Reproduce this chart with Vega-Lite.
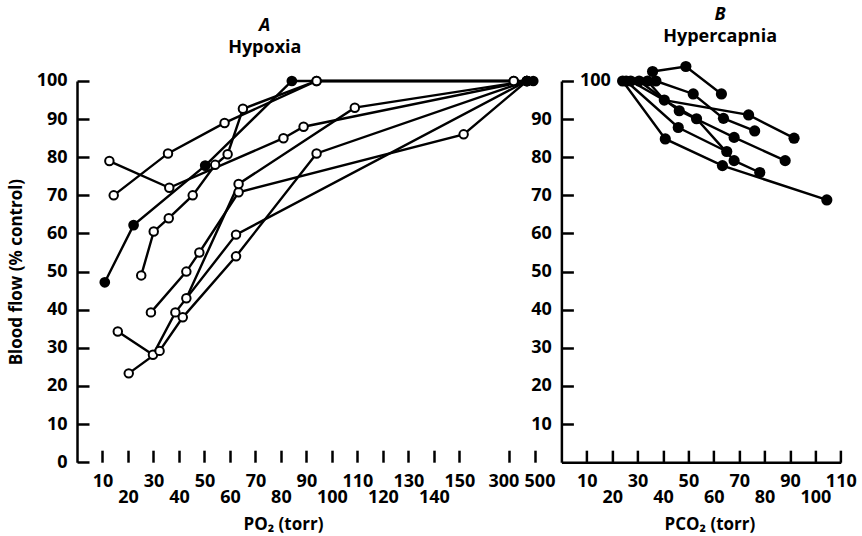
{
  "$schema": "https://vega.github.io/schema/vega-lite/v6.json",
  "background": "white",
  "padding": {"left": 7, "top": 5, "right": 10, "bottom": 2},
  "spacing": 26.4,
  "bounds": "flush",
  "config": {
    "view": {"stroke": null},
    "font": "Open Sans",
    "axis": {
      "grid": false,
      "domainColor": "black",
      "domainWidth": 2.5,
      "tickColor": "black",
      "tickWidth": 2.5,
      "tickSize": -12,
      "labelPadding": 22,
      "labelFont": "Open Sans",
      "labelFontSize": 18,
      "labelFontWeight": "bold",
      "labelColor": "black",
      "titleFont": "Open Sans",
      "titleFontSize": 17,
      "titleFontWeight": "bold",
      "titleColor": "black",
      "labelOverlap": false,
      "labelBound": false,
      "labelFlush": false
    },
    "title": {
      "font": "Open Sans",
      "fontSize": 18,
      "fontWeight": "bold",
      "fontStyle": "italic",
      "color": "black",
      "subtitleFont": "Open Sans",
      "subtitleFontSize": 18,
      "subtitleFontWeight": "bold",
      "subtitleColor": "black",
      "subtitlePadding": 4,
      "anchor": "middle",
      "frame": "group",
      "align": "center",
      "offset": 15
    }
  },
  "datasets": {
    "hypoxia": [
      {"s": "A1", "x": 14.4, "y": 70, "f": "o"},
      {"s": "A1", "x": 35.7, "y": 81, "f": "o"},
      {"s": "A1", "x": 57.9, "y": 89, "f": "o"},
      {"s": "A1", "x": 94, "y": 100, "f": "o"},
      {"s": "A1", "x": 335, "y": 100, "f": "o"},
      {"s": "A2", "x": 12.7, "y": 79, "f": "o"},
      {"s": "A2", "x": 36.2, "y": 72, "f": "o"},
      {"s": "A2", "x": 81, "y": 85, "f": "o"},
      {"s": "A2", "x": 88.9, "y": 88, "f": "o"},
      {"s": "A2", "x": 440, "y": 100, "f": "f"},
      {"s": "A3", "x": 25.2, "y": 49, "f": "o"},
      {"s": "A3", "x": 30.1, "y": 60.5, "f": "o"},
      {"s": "A3", "x": 36, "y": 64, "f": "o"},
      {"s": "A3", "x": 45.4, "y": 70, "f": "o"},
      {"s": "A3", "x": 54.2, "y": 78, "f": "o"},
      {"s": "A3", "x": 59.1, "y": 80.8, "f": "o"},
      {"s": "A3", "x": 65.1, "y": 92.7, "f": "o"},
      {"s": "A3", "x": 94, "y": 100, "f": "o"},
      {"s": "A3", "x": 335, "y": 100, "f": "o"},
      {"s": "F", "x": 10.9, "y": 47.2, "f": "f"},
      {"s": "F", "x": 22.2, "y": 62.2, "f": "f"},
      {"s": "F", "x": 50.3, "y": 77.8, "f": "f"},
      {"s": "F", "x": 84.3, "y": 100, "f": "f"},
      {"s": "F", "x": 490, "y": 100, "f": "f"},
      {"s": "L1", "x": 16, "y": 34.3, "f": "o"},
      {"s": "L1", "x": 29.8, "y": 28.2, "f": "o"},
      {"s": "L1", "x": 38.6, "y": 39.3, "f": "o"},
      {"s": "L1", "x": 62.4, "y": 59.7, "f": "o"},
      {"s": "L1", "x": 440, "y": 100, "f": "f"},
      {"s": "L2", "x": 20.3, "y": 23.3, "f": "o"},
      {"s": "L2", "x": 32.4, "y": 29.2, "f": "o"},
      {"s": "L2", "x": 41.5, "y": 38, "f": "o"},
      {"s": "L2", "x": 62.4, "y": 54, "f": "o"},
      {"s": "L2", "x": 94, "y": 81, "f": "o"},
      {"s": "L2", "x": 440, "y": 100, "f": "f"},
      {"s": "L3", "x": 29, "y": 39.3, "f": "o"},
      {"s": "L3", "x": 42.9, "y": 50, "f": "o"},
      {"s": "L3", "x": 48, "y": 55, "f": "o"},
      {"s": "L3", "x": 63.4, "y": 70.8, "f": "o"},
      {"s": "L3", "x": 163, "y": 86, "f": "o"},
      {"s": "L3", "x": 440, "y": 100, "f": "f"},
      {"s": "L4", "x": 42.9, "y": 43, "f": "o"},
      {"s": "L4", "x": 63.4, "y": 73, "f": "o"},
      {"s": "L4", "x": 109, "y": 93, "f": "o"},
      {"s": "L4", "x": 440, "y": 100, "f": "f"}
    ],
    "hypercapnia": [
      {"s": "B1", "x": 35.9, "y": 102.5},
      {"s": "B1", "x": 49, "y": 103.8},
      {"s": "B1", "x": 63, "y": 96.6},
      {"s": "B2", "x": 37.2, "y": 100},
      {"s": "B2", "x": 51.9, "y": 96.6},
      {"s": "B2", "x": 63.8, "y": 90.2},
      {"s": "B2", "x": 76.1, "y": 86.9},
      {"s": "B3", "x": 33.9, "y": 100},
      {"s": "B3", "x": 40.5, "y": 95},
      {"s": "B3", "x": 73.7, "y": 91.1},
      {"s": "B3", "x": 91.6, "y": 85},
      {"s": "B4", "x": 30.6, "y": 100},
      {"s": "B4", "x": 46.4, "y": 92.2},
      {"s": "B4", "x": 68, "y": 85.2},
      {"s": "B4", "x": 88.1, "y": 79.1},
      {"s": "B5", "x": 27.3, "y": 100},
      {"s": "B5", "x": 53.2, "y": 90.1},
      {"s": "B5", "x": 68, "y": 79.1},
      {"s": "B5", "x": 78.1, "y": 76},
      {"s": "B6", "x": 24.1, "y": 100},
      {"s": "B6", "x": 40.9, "y": 84.8},
      {"s": "B6", "x": 63.4, "y": 77.8},
      {"s": "B6", "x": 104.5, "y": 68.8},
      {"s": "B7", "x": 25.5, "y": 100},
      {"s": "B7", "x": 46, "y": 87.8},
      {"s": "B7", "x": 65.1, "y": 81.5}
    ]
  },
  "hconcat": [
    {
      "width": 457.5,
      "height": 381.2,
      "title": {"text": "A", "subtitle": "Hypoxia", "dx": -41},
      "encoding": {
        "x": {
          "field": "x",
          "type": "quantitative",
          "scale": {"domain": [0, 150, 300, 500], "range": [0, 382.3, 432.3, 457.5], "nice": false, "zero": false},
          "axis": {
            "values": [10, 20, 30, 40, 50, 60, 70, 80, 90, 100, 110, 120, 130, 140, 150, 300, 500],
            "domain": false,
            "labelPadding": {"condition": {"test": "datum.value % 20 === 0 && datum.value < 200", "value": 38}, "value": 22},
            "labelOffset": {"condition": [{"test": "datum.value === 300", "value": -6}, {"test": "datum.value === 500", "value": 5}], "value": 0},
            "title": "PO₂ (torr)",
            "titleX": 206,
            "titleY": 67,
            "titleBaseline": "alphabetic",
            "titleAlign": "center"
          }
        },
        "y": {
          "field": "y",
          "type": "quantitative",
          "scale": {"domain": [0, 100], "nice": false, "zero": false},
          "axis": {
            "values": [0, 10, 20, 30, 40, 50, 60, 70, 80, 90, 100],
            "title": "Blood flow (% control)",
            "titlePadding": 11
          }
        }
      },
      "layer": [
        {
          "data": {"values": [{"x": 0, "x2": 150}, {"x": 300, "x2": 500}]},
          "mark": {"type": "rule", "color": "black", "strokeWidth": 2.5},
          "encoding": {"x2": {"field": "x2"}, "y": {"datum": 0, "type": "quantitative"}}
        },
        {
          "data": {"name": "hypoxia"},
          "mark": {"type": "line", "color": "black", "strokeWidth": 2.4},
          "encoding": {"detail": {"field": "s", "type": "nominal"}}
        },
        {
          "data": {"name": "hypoxia"},
          "transform": [{"filter": "datum.f === 'o'"}],
          "mark": {"type": "point", "shape": "circle", "filled": true, "fill": "white", "stroke": "black", "strokeWidth": 2, "size": 72, "opacity": 1}
        },
        {
          "data": {"name": "hypoxia"},
          "transform": [{"filter": "datum.f === 'f'"}],
          "mark": {"type": "circle", "color": "black", "size": 115, "opacity": 1}
        }
      ]
    },
    {
      "width": 279.4,
      "height": 381.2,
      "title": {"text": "B", "subtitle": "Hypercapnia", "dx": 19},
      "data": {"name": "hypercapnia"},
      "encoding": {
        "x": {
          "field": "x",
          "type": "quantitative",
          "scale": {"domain": [0, 110], "nice": false, "zero": false},
          "axis": {
            "values": [10, 20, 30, 40, 50, 60, 70, 80, 90, 100, 110],
            "labelPadding": {"condition": {"test": "datum.value % 20 === 0", "value": 38}, "value": 22},
            "title": "PCO₂ (torr)",
            "titleX": 148,
            "titleY": 67,
            "titleBaseline": "alphabetic",
            "titleAlign": "center"
          }
        },
        "y": {
          "field": "y",
          "type": "quantitative",
          "scale": {"domain": [0, 100], "nice": false, "zero": false},
          "axis": {
            "values": [10, 20, 30, 40, 50, 60, 70, 80, 90, 100],
            "labelPadding": {"condition": {"test": "datum.value === 100", "value": -37}, "value": 22},
            "title": null
          }
        }
      },
      "layer": [
        {
          "mark": {"type": "line", "color": "black", "strokeWidth": 2.4},
          "encoding": {"detail": {"field": "s", "type": "nominal"}}
        },
        {
          "mark": {"type": "circle", "color": "black", "size": 125, "opacity": 1}
        }
      ]
    }
  ]
}
